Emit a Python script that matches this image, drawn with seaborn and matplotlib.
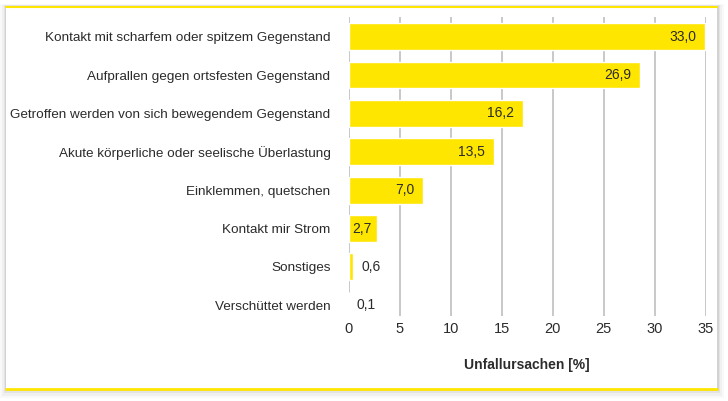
import matplotlib
matplotlib.use("Agg")
import matplotlib.pyplot as plt
import seaborn as sns
import pandas as pd
from matplotlib.patches import Rectangle
from matplotlib.lines import Line2D

categories = [
    "Kontakt mit scharfem oder spitzem Gegenstand",
    "Aufprallen gegen ortsfesten Gegenstand",
    "Getroffen werden von sich bewegendem Gegenstand",
    "Akute körperliche oder seelische Überlastung",
    "Einklemmen, quetschen",
    "Kontakt mir Strom",
    "Sonstiges",
    "Verschüttet werden",
]
# bar lengths as drawn in the picture
bar_values = [34.95, 28.5, 17.05, 14.2, 7.3, 2.75, 0.47, 0.0]
# values as printed on the bars
value_labels = ["33,0", "26,9", "16,2", "13,5", "7,0", "2,7", "0,6", "0,1"]
x_ticks = [0, 5, 10, 15, 20, 25, 30, 35]
x_label = "Unfallursachen [%]"

YELLOW = "#FFE600"
TEXT = "#2b2b2b"
GRID = "#c4c4c4"

sns.set_theme(style="white")
plt.rcParams["font.family"] = ["Liberation Sans", "DejaVu Sans"]

W, H = 728, 401
fig = plt.figure(figsize=(W / 100, H / 100), dpi=100)
fig.patch.set_facecolor("white")


def fx(px):
    return px / W


def fy(py):
    return 1 - py / H


# soft shadow around the panel
for off, a in [(7, 0.025), (5, 0.035), (3, 0.05), (1.5, 0.07)]:
    x0, x1 = 6 - off * 0.8, 717 + off
    y0, y1 = 6 - off * 0.3, 389 + off * 1.3
    fig.patches.append(Rectangle((fx(x0), fy(y1)), (x1 - x0) / W, (y1 - y0) / H,
                                 transform=fig.transFigure, facecolor="#000000", alpha=a,
                                 edgecolor="none", zorder=0))
fig.patches.append(Rectangle((fx(6), fy(389)), fx(711), (389 - 6) / H,
                             transform=fig.transFigure, facecolor="white", edgecolor="none", zorder=1))
fig.lines.append(Line2D([fx(6), fx(717)], [fy(6.5), fy(6.5)], transform=fig.transFigure,
                        color=YELLOW, lw=1.5, zorder=2))
fig.lines.append(Line2D([fx(6), fx(717)], [fy(388.5), fy(388.5)], transform=fig.transFigure,
                        color=YELLOW, lw=2.0, zorder=2))

ax = fig.add_axes([348.5 / W, 1 - 316 / H, (706 - 348.5) / W, (316 - 16.7) / H])
ax.set_facecolor("none")
ax.set_zorder(3)

df = pd.DataFrame({"cat": categories, "val": bar_values})
sns.barplot(data=df, y="cat", x="val", orient="h", color=YELLOW, width=0.7,
            saturation=1, ax=ax, zorder=3)

ax.set_xlim(0, 35)
ax.set_ylim(7.28, -0.52)
ax.set_xticks(x_ticks)
ax.set_xticklabels([str(t) for t in x_ticks])
ax.xaxis.grid(True, color=GRID, lw=1.3, zorder=0)
ax.set_axisbelow(True)
for s in ax.spines.values():
    s.set_visible(False)
ax.tick_params(axis="y", length=0, labelsize=9.7, colors=TEXT, pad=13)
ax.tick_params(axis="x", length=0, labelsize=10.5, colors=TEXT, pad=4)
ax.set_ylabel("")
ax.set_xlabel(x_label, fontsize=10, fontweight="bold", color=TEXT, labelpad=16)

for i, (v, lab) in enumerate(zip(bar_values, value_labels)):
    if v > 4:
        ax.text(v - 0.85, i, lab, ha="right", va="center", fontsize=10, color=TEXT, zorder=5)
    elif v > 2:
        ax.text(v - 0.45, i, lab, ha="right", va="center", fontsize=10, color=TEXT, zorder=5)
    else:
        ax.text(v + 0.8, i, lab, ha="left", va="center", fontsize=10, color=TEXT, zorder=5)

fig.savefig("out.png", dpi=100, facecolor="white")
